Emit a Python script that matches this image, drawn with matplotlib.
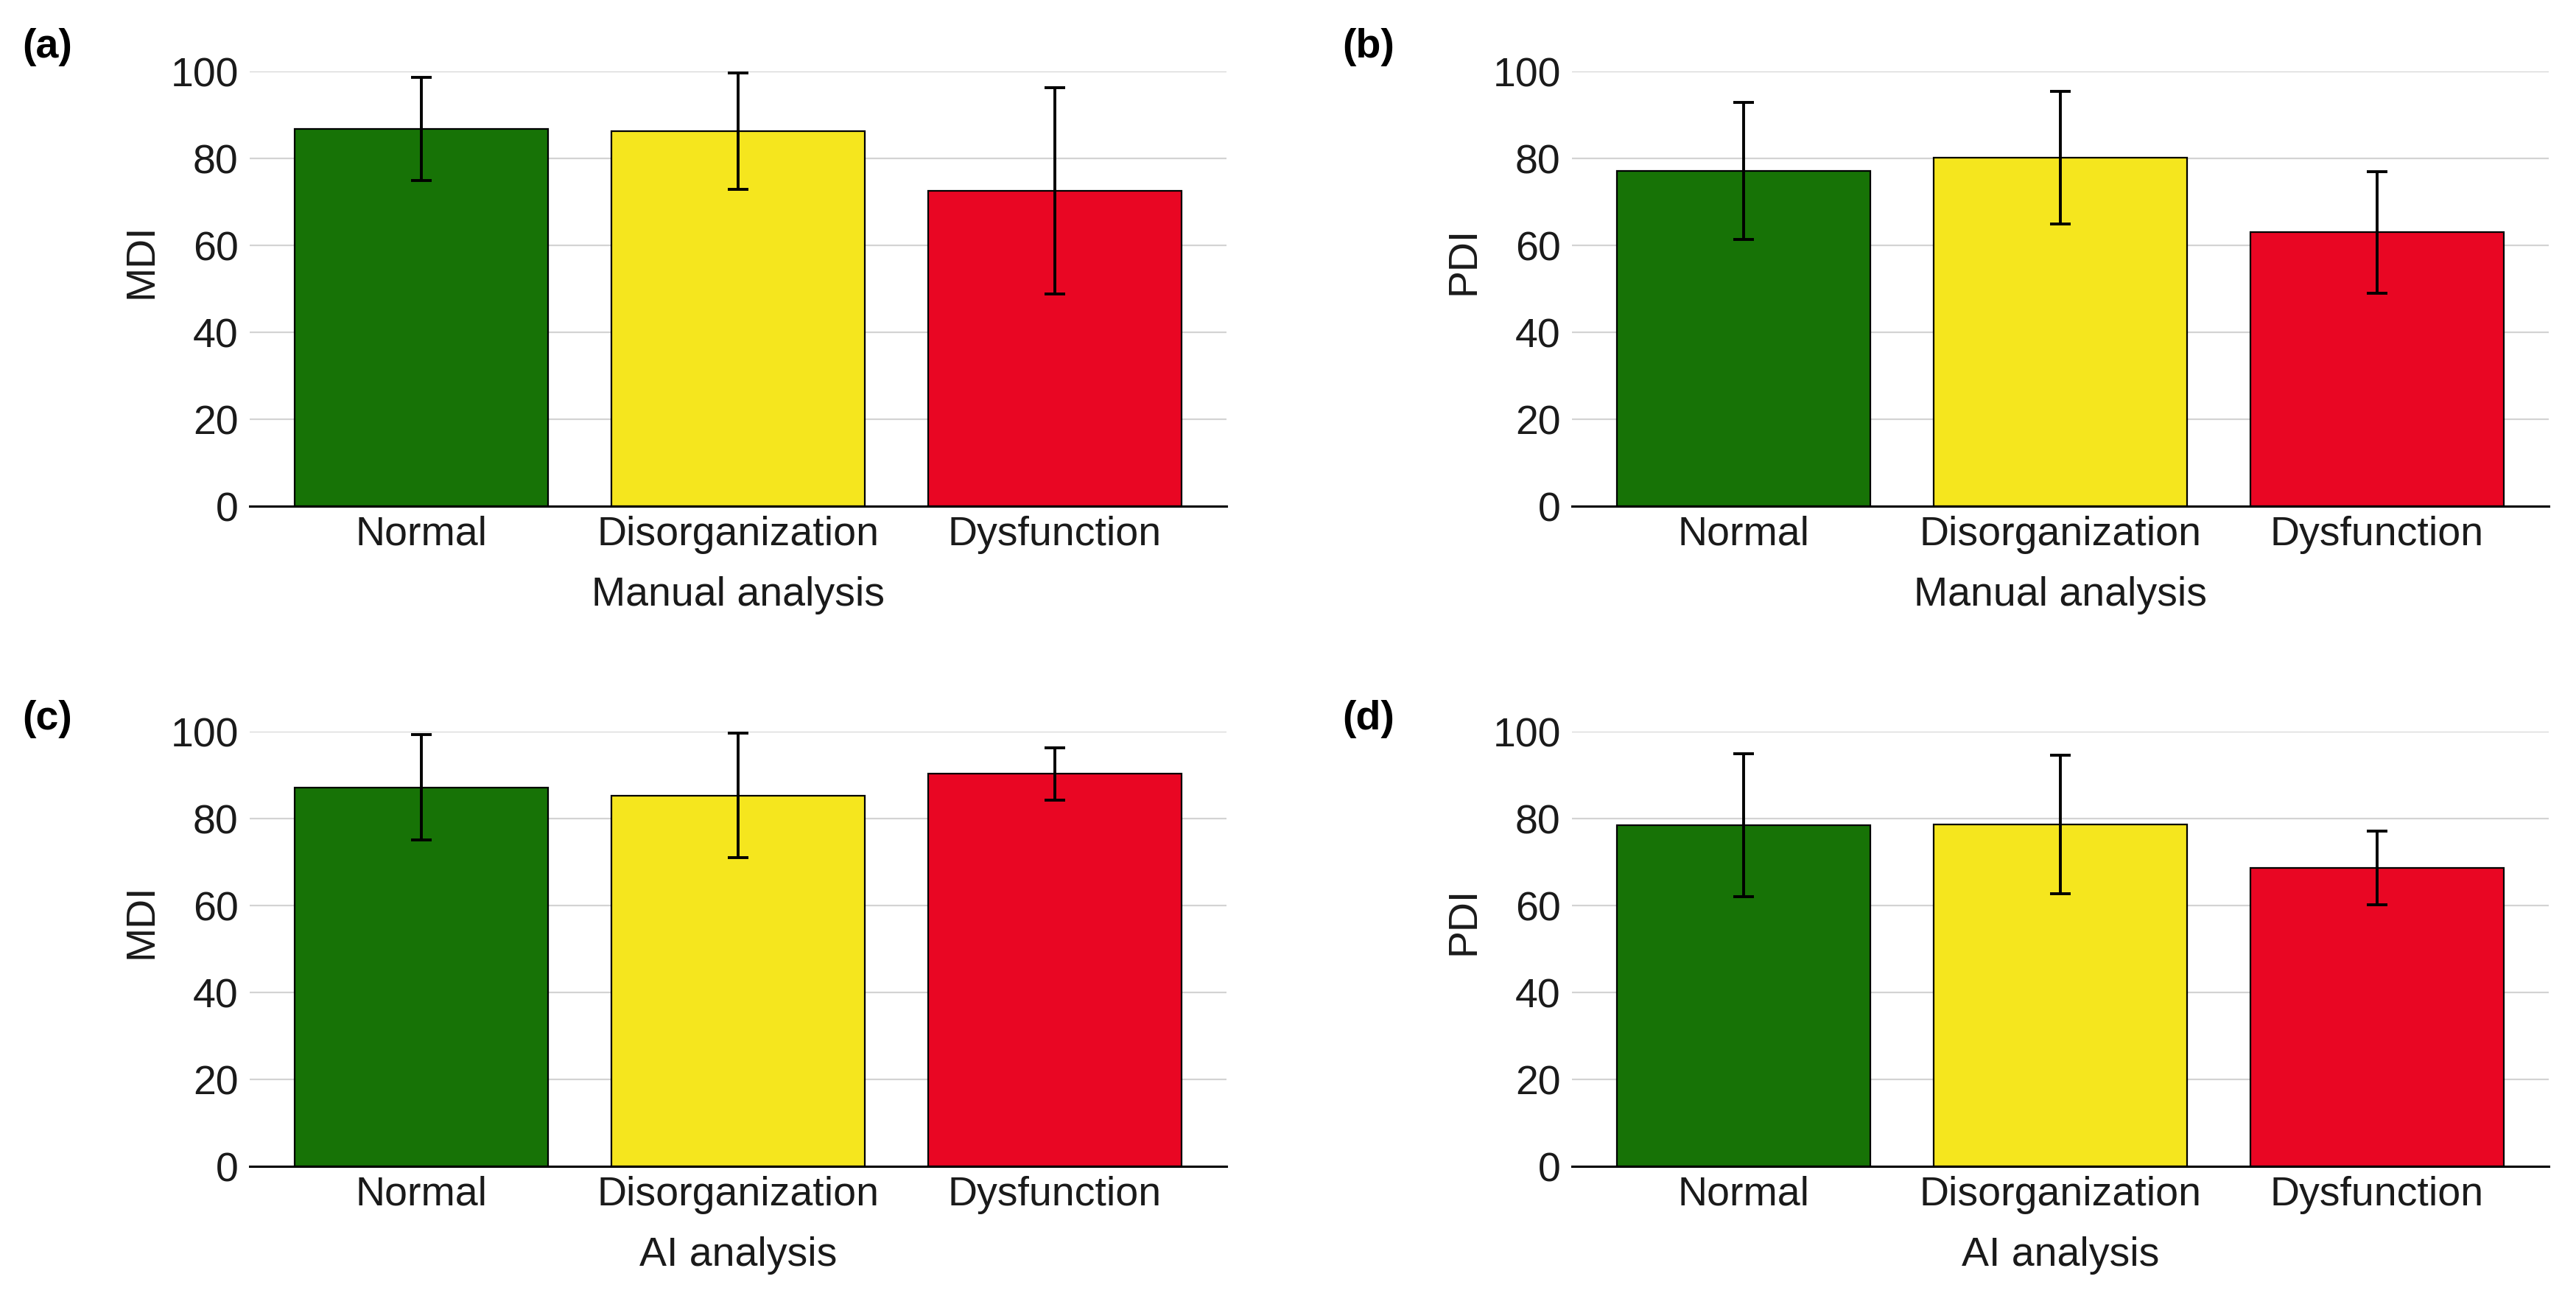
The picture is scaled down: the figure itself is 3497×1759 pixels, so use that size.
import matplotlib
matplotlib.use("Agg")
import matplotlib.pyplot as plt
import numpy as np

plt.rcParams['font.family'] = ['Liberation Sans', 'DejaVu Sans']

categories = ["Normal", "Disorganization", "Dysfunction"]
colors = ["#177306", "#F5E61E", "#E90623"]

# panel (a) Manual MDI
manual_mdi_mean = [86.8, 86.3, 72.5]
manual_mdi_sd = [11.8, 13.4, 23.7]
# panel (b) Manual PDI
manual_pdi_mean = [77.1, 80.2, 63.0]
manual_pdi_sd = [15.7, 15.3, 14.0]
# panel (c) AI MDI
ai_mdi_mean = [87.2, 85.3, 90.3]
ai_mdi_sd = [12.1, 14.3, 6.0]
# panel (d) AI PDI
ai_pdi_mean = [78.5, 78.6, 68.7]
ai_pdi_sd = [16.5, 15.9, 8.5]

panels = [
    ("(a)", "MDI", "Manual analysis", manual_mdi_mean, manual_mdi_sd),
    ("(b)", "PDI", "Manual analysis", manual_pdi_mean, manual_pdi_sd),
    ("(c)", "MDI", "AI analysis", ai_mdi_mean, ai_mdi_sd),
    ("(d)", "PDI", "AI analysis", ai_pdi_mean, ai_pdi_sd),
]

W, H = 3497, 1759
fig = plt.figure(figsize=(W / 200, H / 200), dpi=200)

lefts = [339, 2134, 339, 2134]
zeros = [687, 687, 1583, 1583]
ax_w = 1326
ax_h = 590
label_pos = [(30, 38), (1822, 38), (30, 950), (1822, 950)]

fs = 20
for i, (tag, ylab, xlab, means, sds) in enumerate(panels):
    l = lefts[i] / W
    b = 1 - zeros[i] / H
    ax = fig.add_axes([l, b, ax_w / W, ax_h / H])
    x = np.arange(len(categories))
    ax.bar(x, means, width=0.8, color=colors, edgecolor="black", linewidth=0.8, zorder=2)
    ax.errorbar(x, means, yerr=sds, fmt="none", ecolor="black", elinewidth=1.4,
                capsize=4.9, capthick=1.4, zorder=3, clip_on=False)
    ax.set_xlim(-0.542, 2.542)
    ax.set_ylim(0, 100)
    ax.set_yticks([0, 20, 40, 60, 80, 100])
    ax.set_xticks(x)
    ax.set_xticklabels(categories)
    ax.yaxis.grid(True, color="#d3d3d3", linewidth=0.8, zorder=0)
    ax.set_axisbelow(True)
    for s in ["left", "right", "top"]:
        ax.spines[s].set_visible(False)
    ax.spines["bottom"].set_linewidth(1.1)
    ax.spines["bottom"].set_zorder(4)
    ax.tick_params(axis="both", length=0, labelsize=fs, colors="#1a1a1a")
    ax.tick_params(axis="y", pad=5.5)
    ax.tick_params(axis="x", pad=4.5)
    ax.set_ylabel(ylab, fontsize=fs, color="#1a1a1a")
    ax.yaxis.set_label_coords(-0.091, 0.564)
    ax.set_xlabel(xlab, fontsize=fs, labelpad=11, color="#1a1a1a")
    fig.text(label_pos[i][0] / W, 1 - label_pos[i][1] / H, tag, fontsize=fs,
             fontweight="bold", ha="left", va="top")

fig.savefig("out.png", dpi=200, facecolor="white")
